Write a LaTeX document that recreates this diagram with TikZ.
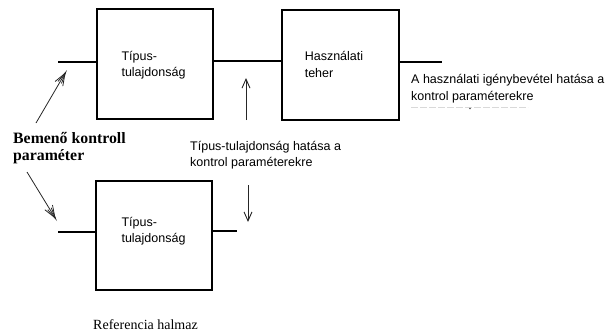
\documentclass[tikz,border=0pt]{standalone}
\usepackage{fontspec}
\setmainfont{Liberation Serif}
\setsansfont{Liberation Sans}
\usetikzlibrary{arrows.meta}
\begin{document}
\begin{tikzpicture}[x=1pt,y=-1pt,
  block/.style={draw, line width=1.8pt, rectangle, minimum width=116pt, minimum height=110pt, inner sep=0pt},
  wire/.style={line width=1.8pt},
  lbl/.style={font=\sffamily\fontsize{12.5}{16.5}\selectfont, align=left, inner sep=0pt},
  ptr/.style={line width=0.9pt, draw=black!85, -{Straight Barb[length=9pt,width=8pt]}},
  fanptr/.style={line width=0.8pt, draw=black!85,
    -{Straight Barb[length=12pt,width=9pt,sep=-12pt]Straight Barb[length=12pt,width=4pt]}},
]
\useasboundingbox (0,0) rectangle (607,333);

% blocks
\node[block] (b1) at (155,64) {};
\node[block, minimum width=117pt] (b2) at (340.5,65) {};
\node[block, minimum height=109pt] (b3) at (154,235.5) {};

% block captions
\node[lbl] (t1) at (153.5,65) {Típus-\\tulajdonság};
\node[lbl] (t2) at (334,64.5) {Használati\\teher};
\node[lbl] (t3) at (153.5,231) {Típus-\\tulajdonság};

% signal lines
\coordinate (in1) at (58,62);
\coordinate (mid) at (247,61);
\coordinate (out) at (442,62);
\coordinate (in3) at (58,232);
\coordinate (out3) at (237,231);
\draw[wire] (in1) -- (in1 -| b1.west);
\draw[wire] (b1.east |- mid) -- (b2.west |- mid);
\draw[wire] (b2.east |- out) -- (out);
\draw[wire] (in3) -- (in3 -| b3.west);
\draw[wire] (b3.east |- out3) -- (out3);

% annotations
\node[font=\bfseries\fontsize{15.8}{17}\selectfont, align=left, inner sep=0pt, anchor=west] (inp) at (13,148.5) {Bemenő kontroll\\paraméter};
\node[font=\fontsize{14}{16}\selectfont, inner sep=0pt] (ref) at (145.5,325) {Referencia halmaz};
\node[lbl, anchor=west] (eff1) at (190,155) {Típus-tulajdonság hatása a\\kontrol paraméterekre};
\node[lbl, anchor=west] (eff2) at (411,88.5) {A használati igénybevétel hatása a\\kontrol paraméterekre};

% pointers
\coordinate (a1s) at (36,123);
\coordinate (a1e) at (67,70);
\coordinate (a2s) at (27,172);
\coordinate (a2e) at (57,221);
\coordinate (u0) at (246,120);
\coordinate (u1) at (246,78);
\coordinate (d0) at (248,185);
\coordinate (d1) at (248,222);
\draw[fanptr] (a1s) -- (a1e);
\draw[fanptr] (a2s) -- (a2e);
\draw[ptr] (u0) -- (u1);
\draw[ptr] (d0) -- (d1);

% faint rule under the right-hand note
\draw[gray!30, line width=0.7pt, dash pattern=on 7pt off 2pt] (411,107.3) -- (528,107.3);
\fill[black!70] (470,108.5) circle (0.8pt);
\end{tikzpicture}
\end{document}
